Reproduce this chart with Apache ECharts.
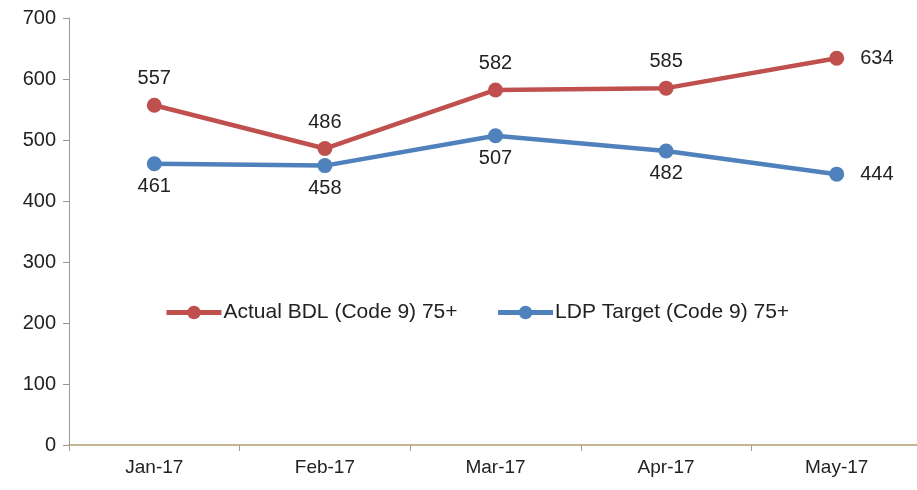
<!DOCTYPE html>
<html>
<head>
<meta charset="utf-8">
<script src="https://cdn.jsdelivr.net/npm/echarts@6/dist/echarts.min.js"></script>
<style>
html, body { margin: 0; padding: 0; background: #fff; overflow: hidden; }
/* chart is a bit wider than the window: the last category runs off the right edge */
#chart { width: 925px; height: 490px; }
</style>
</head>
<body>
<div id="chart"></div>
<script>
var months = ['Jan-17', 'Feb-17', 'Mar-17', 'Apr-17', 'May-17'];
var actualBDL = [557, 486, 582, 585, 634];
var ldpTarget = [461, 458, 507, 482, 444];
var yTicks = [0, 100, 200, 300, 400, 500, 600, 700];

var FONT = '"Liberation Sans", "DejaVu Sans", sans-serif';
var RED = '#c0504d';
var BLUE = '#4f81bd';

// label placement per point: last point goes right
function withLabels(values, pos) {
	return values.map(function (v, i) {
		if (i == values.length - 1) {
			return { value: v, label: { position: 'right', distance: 16 } };
		}
		return { value: v, label: { position: pos } };
	});
}

var chart = echarts.init(document.getElementById('chart'));
var option = {
	animation: false,
	textStyle: { fontFamily: FONT },
	grid: { left: 69, top: 18, right: 3, bottom: 45, containLabel: false },
	legend: {
		top: 297,
		left: 159,
		itemGap: 38,
		itemWidth: 55,
		itemHeight: 17,
		textStyle: { fontSize: 21, color: '#222', fontFamily: FONT, padding: [0, 0, 0, -3] },
		data: [
			{ name: 'Actual BDL (Code 9) 75+', lineStyle: { width: 5 } },
			{ name: 'LDP Target (Code 9) 75+', lineStyle: { width: 5 } }
		]
	},
	xAxis: {
		type: 'category',
		data: months,
		boundaryGap: true,
		axisLine: { lineStyle: { color: '#b0a070', width: 1.5 } },
		axisTick: { show: true, length: 6, lineStyle: { color: '#b0a070' } },
		axisLabel: { fontSize: 19, color: '#222', margin: 13, fontFamily: FONT },
		splitLine: { show: false }
	},
	yAxis: {
		type: 'value',
		min: yTicks[0],
		max: yTicks[yTicks.length - 1],
		interval: 100,
		axisLine: { show: true, lineStyle: { color: '#999', width: 1 } },
		axisTick: { show: true, length: 6, lineStyle: { color: '#999' } },
		axisLabel: { fontSize: 20, color: '#222', margin: 13, fontFamily: FONT },
		splitLine: { show: false }
	},
	series: [
		{
			name: 'Actual BDL (Code 9) 75+',
			type: 'line',
			data: withLabels(actualBDL, 'top'),
			symbol: 'circle',
			symbolSize: 15,
			color: RED,
			lineStyle: { width: 4.5, color: RED },
			itemStyle: { color: RED },
			label: { show: true, fontSize: 20, color: '#222', distance: 9, fontFamily: FONT }
		},
		{
			name: 'LDP Target (Code 9) 75+',
			type: 'line',
			data: withLabels(ldpTarget, 'bottom'),
			symbol: 'circle',
			symbolSize: 15,
			color: BLUE,
			lineStyle: { width: 4.5, color: BLUE },
			itemStyle: { color: BLUE },
			label: { show: true, fontSize: 20, color: '#222', distance: 5, fontFamily: FONT }
		}
	]
};
chart.setOption(option);
</script>
</body>
</html>
